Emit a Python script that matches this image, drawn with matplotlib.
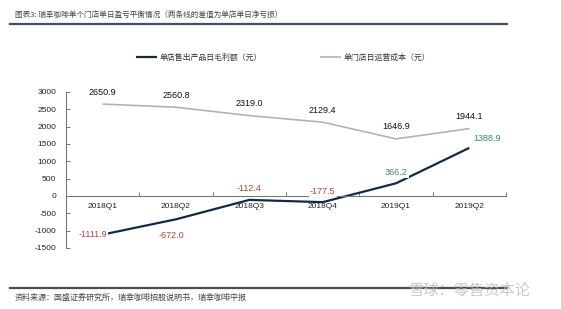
import matplotlib
matplotlib.use("Agg")
import matplotlib.pyplot as plt
from matplotlib.lines import Line2D
import numpy as np

plt.rcParams['font.family'] = ['Liberation Sans', 'Noto Sans CJK SC', 'DejaVu Sans']

categories = ["2018Q1", "2018Q2", "2018Q3", "2018Q4", "2019Q1", "2019Q2"]
gross_profit = [-1111.9, -672.0, -112.4, -177.5, 366.2, 1388.9]
operating_cost = [2650.9, 2560.8, 2319.0, 2129.4, 1646.9, 1944.1]
yticks = [-1500, -1000, -500, 0, 500, 1000, 1500, 2000, 2500, 3000]
series_names = ["单店售出产品日毛利额（元）", "单门店日运营成本（元）"]
title_text = "图表3: 瑞幸咖啡单个门店单日盈亏平衡情况（两条线的差值为单店单日净亏损）"
source_text = "资料来源：国盛证券研究所，瑞幸咖啡招股说明书，瑞幸咖啡中报"

W, H = 561, 309
fig = plt.figure(figsize=(W / 100, H / 100), dpi=100)
fig.patch.set_facecolor("white")

def fx(px):
    return px / W

def fy(py):
    return 1 - py / H

ax = fig.add_axes([fx(66), fy(248), fx(506) - fx(66), fy(92) - fy(248)])
ax.set_facecolor("none")

navy = "#0f2a4a"
grey = "#b5afba"
red = "#b5413c"
green = "#3b8a5e"

x = np.arange(len(categories))
ln1, = ax.plot(x, gross_profit, color=navy, lw=1.6, solid_capstyle="butt", zorder=2)
ln2, = ax.plot(x, operating_cost, color=grey, lw=1.2, solid_capstyle="butt", zorder=2)

ax.set_xlim(-0.5, len(categories) - 0.5)
ax.set_ylim(-1500, 3000)

ax.spines["top"].set_visible(False)
ax.spines["right"].set_visible(False)
ax.spines["bottom"].set_position(("data", 0))
ax.spines["left"].set_color("#777777")
ax.spines["bottom"].set_color("#777777")
ax.spines["left"].set_linewidth(0.8)
ax.spines["bottom"].set_linewidth(0.8)

ax.set_yticks(yticks)
ax.set_yticklabels([str(v) for v in yticks])
ax.tick_params(axis="y", direction="in", length=3, width=0.7, color="#777777",
               labelsize=6, pad=7, labelcolor="#222222")

ax.set_xticks(x)
ax.set_xticklabels(categories)
ax.set_xticks(np.arange(-0.5, len(categories), 1.0), minor=True)
ax.tick_params(axis="x", which="major", length=0, labelsize=6, pad=5, labelcolor="#222222")
ax.tick_params(axis="x", which="minor", direction="in", length=3, width=0.7, color="#777777")

# labels for operating cost
for xi, v in zip(x, operating_cost):
    ax.annotate(f"{v:.1f}", (xi, v), xytext=(0, 8.6), textcoords="offset points",
                ha="center", va="center", fontsize=6.5, color="#111111",
                annotation_clip=False, zorder=3)

# labels for gross profit
gp_offsets = [(-7.2, 0, "center"), (-3, -12, "center"), (0, 8, "center"),
              (0, 8, "center"), (0, 8, "center"), (3, 6.5, "left")]
for xi, v, (dx, dy, ha) in zip(x, gross_profit, gp_offsets):
    ax.annotate(f"{v:.1f}", (xi, v), xytext=(dx, dy), textcoords="offset points",
                ha=ha, va="center", fontsize=6.5, color=(red if v < 0 else green),
                annotation_clip=False, zorder=3,
                bbox=dict(boxstyle="square,pad=0.15", fc="white", ec="none"))

# legend
leg = fig.legend([ln1, ln2], series_names, loc="center", bbox_to_anchor=(fx(283), fy(57)),
                 ncol=2, frameon=False, handlelength=2.7, columnspacing=7.3,
                 handletextpad=0.3, prop={"family": ["Noto Sans CJK SC"], "size": 5.7})
for t in leg.get_texts():
    t.set_color("#333333")

# title and rules
fig.text(fx(15), fy(15), title_text, fontsize=5.5, color="#444444", va="center", ha="left",
         family=["Noto Sans CJK SC", "DejaVu Sans"])
fig.add_artist(Line2D([fx(10), fx(507)], [fy(23.5), fy(23.5)], color="#3f5060", lw=1.6))
fig.add_artist(Line2D([fx(10), fx(507)], [fy(288), fy(288)], color="#3f5060", lw=1.6))
fig.text(fx(15), fy(297), source_text, fontsize=5.8, color="#444444", va="center", ha="left",
         family=["Noto Sans CJK SC", "DejaVu Sans"])

# watermark
fig.text(fx(470), fy(290), "雪球：零售资本论", fontsize=11, color="#bbbbbb", alpha=0.8,
         va="center", ha="center", family=["Noto Sans CJK SC", "DejaVu Sans"])

fig.savefig("out.png", dpi=100)
